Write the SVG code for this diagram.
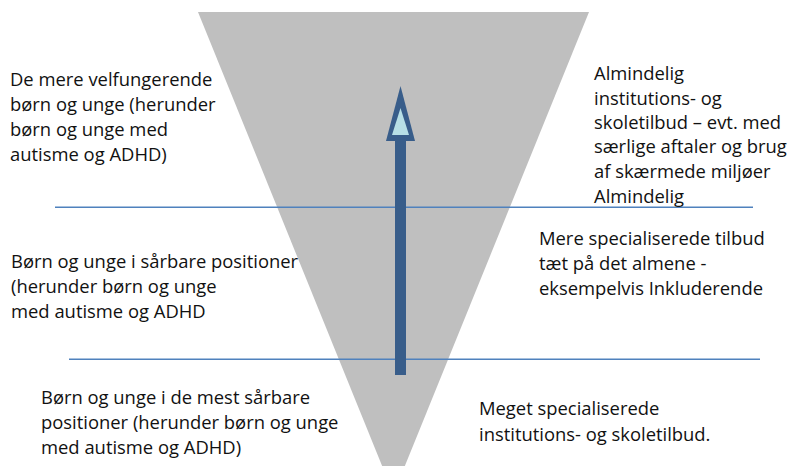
<svg xmlns="http://www.w3.org/2000/svg" width="792" height="466" viewBox="0 0 792 466">
<style>
text{font-family:"Open Sans","Liberation Sans",Arial,sans-serif;font-size:18.4px;fill:#111111}
.sep{stroke:#4f81bd;stroke-width:1.6;fill:none}
</style>
<rect width="792" height="466" fill="#ffffff"/>
<g id="funnel"><polygon points="198,12 589,12 393.5,494" fill="#bfbfbf"/></g>
<g id="connectors">
<line class="sep" x1="55" y1="207.3" x2="753" y2="207.3"/>
<line class="sep" x1="69" y1="359.3" x2="760" y2="359.3"/>
</g>
<g id="arrow">
<rect x="395" y="136" width="11" height="239" fill="#385d8a"/>
<polygon points="400.5,86 415,141 386,141" fill="#385d8a"/>
<polygon points="400.5,108 409,135 392,135" fill="#b7dfe6"/>
</g>
<g id="left-top"><text x="10" y="86">De mere velfungerende</text><text x="10" y="111">børn og unge (herunder</text><text x="10" y="136">børn og unge med</text><text x="10" y="161">autisme og ADHD)</text></g>
<g id="right-top"><text x="594" y="80">Almindelig</text><text x="594" y="105">institutions- og</text><text x="594" y="129">skoletilbud – evt. med</text><text x="594" y="153">særlige aftaler og brug</text><text x="594" y="178">af skærmede miljøer</text><text x="594" y="203">Almindelig</text></g>
<g id="left-mid"><text x="11" y="268">Børn og unge i sårbare positioner</text><text x="11" y="293">(herunder børn og unge</text><text x="11" y="318">med autisme og ADHD</text></g>
<g id="right-mid"><text x="539" y="245">Mere specialiserede tilbud</text><text x="539" y="270">tæt på det almene -</text><text x="539" y="295">eksempelvis Inkluderende</text></g>
<g id="left-bottom"><text x="41" y="404">Børn og unge i de mest sårbare</text><text x="41" y="429">positioner (herunder børn og unge</text><text x="41" y="454">med autisme og ADHD)</text></g>
<g id="right-bottom"><text x="479" y="415">Meget specialiserede</text><text x="479" y="441">institutions- og skoletilbud.</text></g>
</svg>
